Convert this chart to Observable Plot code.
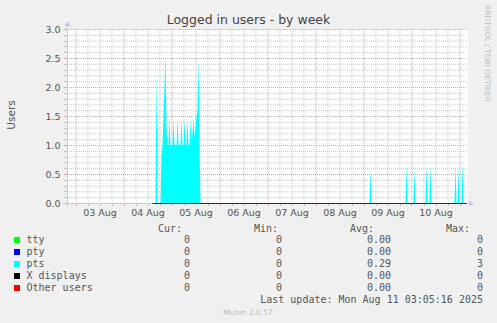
<!DOCTYPE html>
<html><head><meta charset="utf-8">
<script src="https://cdn.jsdelivr.net/npm/d3@7"></script>
<script src="https://cdn.jsdelivr.net/npm/@observablehq/plot@0.6"></script>
<style>
html,body{margin:0;padding:0;background:#f0f0f0;overflow:hidden;}
svg{display:block;}
</style></head><body><div id="chart"></div>
<script>
const chartTitle = "Logged in users - by week";
const yLabel = "Users";
const sideNote = "RRDTOOL / TOBI OETIKER";
const footer = "Munin 2.0.57";
const lastUpdate = "Last update: Mon Aug 11 03:05:16 2025";
const seriesNames = ["tty", "pty", "pts", "X displays", "Other users"];
const seriesColors = ["#00ff00", "#0000ff", "#00ffff", "#000000", "#ff0000"];
const statHeaders = ["Cur:", "Min:", "Avg:", "Max:"];
const curValues = ["0", "0", "0", "0", "0"];
const minValues = ["0", "0", "0", "0", "0"];
const avgValues = ["0.00", "0.00", "0.29", "0.00", "0.00"];
const maxValues = ["0", "0", "3", "0", "0"];

const xDomain = ["2025-08-02T19:45Z", "2025-08-11T03:45Z"];
const dayTicks = ["2025-08-03T12:00Z", "2025-08-04T12:00Z", "2025-08-05T12:00Z", "2025-08-06T12:00Z",
                  "2025-08-07T12:00Z", "2025-08-08T12:00Z", "2025-08-09T12:00Z", "2025-08-10T12:00Z"];
const dayLabels = ["03 Aug", "04 Aug", "05 Aug", "06 Aug", "07 Aug", "08 Aug", "09 Aug", "10 Aug"];
const yTicks = [0, 0.5, 1, 1.5, 2, 2.5, 3];
const knownRange = ["2025-08-04T14:30Z", "2025-08-11T03:30Z"];

const ptsTimes = [
  "2025-08-04T14:30Z", "2025-08-04T16:00Z", "2025-08-04T16:30Z", "2025-08-04T17:00Z",
  "2025-08-04T18:30Z", "2025-08-04T19:00Z", "2025-08-04T19:30Z", "2025-08-04T20:00Z",
  "2025-08-04T20:30Z", "2025-08-04T21:00Z", "2025-08-04T21:30Z", "2025-08-04T22:00Z",
  "2025-08-04T22:30Z", "2025-08-04T23:00Z", "2025-08-04T23:30Z",
  "2025-08-05T00:30Z", "2025-08-05T01:00Z", "2025-08-05T01:30Z",
  "2025-08-05T02:30Z", "2025-08-05T03:00Z", "2025-08-05T03:30Z",
  "2025-08-05T04:30Z", "2025-08-05T05:00Z", "2025-08-05T05:30Z",
  "2025-08-05T06:00Z", "2025-08-05T06:30Z", "2025-08-05T07:00Z",
  "2025-08-05T07:30Z", "2025-08-05T08:00Z", "2025-08-05T08:30Z",
  "2025-08-05T09:00Z", "2025-08-05T09:30Z", "2025-08-05T10:00Z",
  "2025-08-05T10:30Z", "2025-08-05T11:00Z", "2025-08-05T11:30Z", "2025-08-05T12:00Z",
  "2025-08-05T12:30Z", "2025-08-05T13:00Z", "2025-08-05T13:30Z", "2025-08-05T14:00Z",
  "2025-08-05T14:30Z",
  "2025-08-09T03:00Z", "2025-08-09T03:30Z", "2025-08-09T04:00Z",
  "2025-08-09T21:00Z", "2025-08-09T21:30Z", "2025-08-09T22:00Z",
  "2025-08-10T01:00Z", "2025-08-10T01:30Z", "2025-08-10T02:00Z",
  "2025-08-10T07:00Z", "2025-08-10T07:30Z", "2025-08-10T08:00Z",
  "2025-08-10T09:00Z", "2025-08-10T09:30Z", "2025-08-10T10:00Z",
  "2025-08-10T21:30Z", "2025-08-10T22:00Z", "2025-08-10T22:30Z",
  "2025-08-10T23:00Z", "2025-08-10T23:30Z", "2025-08-11T00:00Z",
  "2025-08-11T01:00Z", "2025-08-11T01:30Z", "2025-08-11T02:00Z",
  "2025-08-11T03:30Z"
];
const ptsValues = [
  0, 0, 2.3, 0,
  0, 0.8, 1.0, 1.5,
  2.0, 2.6, 1.3, 1.0,
  1.0, 1.45, 1.0,
  1.0, 1.45, 1.0,
  1.0, 1.45, 1.0,
  1.0, 1.45, 1.0,
  1.0, 1.45, 1.0,
  1.0, 1.45, 1.0,
  1.0, 1.45, 1.0,
  1.2, 1.45, 1.15, 1.3,
  1.5, 1.6, 2.5, 1.0,
  0,
  0, 0.6, 0,
  0, 0.65, 0,
  0, 0.6, 0,
  0, 0.65, 0,
  0, 0.65, 0,
  0, 0.65, 0,
  0, 0.6, 0,
  0, 0.7, 0,
  0
];
const ttyValues = [0, 0];
const ptyValues = [0, 0];
const xdispValues = [0, 0];
const otherValues = [0, 0];

const known = knownRange.map(t => new Date(t));
const pts = ptsTimes.map((t, i) => ({date: new Date(t), value: ptsValues[i]}));
const flat = vals => known.map((d, i) => ({date: d, value: vals[i]}));

const x0 = new Date(xDomain[0]), x1 = new Date(xDomain[1]);
const majorX = d3.utcDay.range(x0, x1);
const minorX = d3.utcHour.every(6).range(x0, x1).filter(d => d.getUTCHours() !== 0);
const minorY = d3.range(1, 30).filter(i => i % 5 !== 0).map(i => i / 10);
const majorY = yTicks.filter(v => v > 0);

const minorColor = "#c4c4c4";
const majorColor = "#e4a0a0";
const axisColor = "#c4c8f0";

const svg = Plot.plot({
  width: 497, height: 323,
  marginLeft: 67, marginRight: 30, marginTop: 29, marginBottom: 120,
  style: {background: "#f0f0f0", fontFamily: "DejaVu Sans", fontSize: "9.5px", color: "#555"},
  x: {type: "utc", domain: [x0, x1]},
  y: {domain: [0, 3]},
  marks: [
    Plot.frame({fill: "white", stroke: null}),
    Plot.ruleY(minorY, {stroke: minorColor, strokeDasharray: "1,1"}),
    Plot.ruleX(minorX, {stroke: minorColor, strokeDasharray: "1,1"}),
    Plot.ruleY(majorY, {stroke: majorColor, strokeDasharray: "1,1"}),
    Plot.ruleX(majorX, {stroke: majorColor, strokeDasharray: "1,1"}),
    Plot.areaY(flat(ttyValues), {x: "date", y: "value", fill: seriesColors[0]}),
    Plot.areaY(flat(ptyValues), {x: "date", y: "value", fill: seriesColors[1]}),
    Plot.areaY(pts, {x: "date", y: "value", fill: seriesColors[2]}),
    Plot.axisY({ticks: yTicks, tickFormat: d3.format(".1f"), tickSize: 0, tickPadding: 7, label: null, fill: "#555"}),
    Plot.axisX({ticks: dayTicks.map(t => new Date(t)), tickFormat: (d, i) => dayLabels[i], tickSize: 0, tickPadding: 6, label: null, fill: "#555"})
  ]
});

const sx = svg.scale("x"), sy = svg.scale("y");
const g = d3.select(svg).append("g").attr("text-anchor", "start");
const X0 = sx.apply(x0), X1 = sx.apply(x1), Y0 = sy.apply(0), Y3 = sy.apply(3);

// tick marks outside the frame
for (const d of minorX) g.append("line").attr("x1", Math.round(sx.apply(d)) + 0.5).attr("x2", Math.round(sx.apply(d)) + 0.5)
  .attr("y1", Y0).attr("y2", Y0 + 3).attr("stroke", minorColor);
for (const d of majorX) g.append("line").attr("x1", Math.round(sx.apply(d)) + 0.5).attr("x2", Math.round(sx.apply(d)) + 0.5)
  .attr("y1", Y0).attr("y2", Y0 + 3).attr("stroke", majorColor);
for (const v of minorY) g.append("line").attr("x1", X0 - 3).attr("x2", X0).attr("y1", Math.round(sy.apply(v)) + 0.5)
  .attr("y2", Math.round(sy.apply(v)) + 0.5).attr("stroke", minorColor);
for (const v of majorY) g.append("line").attr("x1", X0 - 3).attr("x2", X0).attr("y1", Math.round(sy.apply(v)) + 0.5)
  .attr("y2", Math.round(sy.apply(v)) + 0.5).attr("stroke", majorColor);

// axes with arrows
g.append("line").attr("x1", X0 - 4).attr("x2", X1 + 3).attr("y1", Y0 + 0.5).attr("y2", Y0 + 0.5).attr("stroke", axisColor);
g.append("line").attr("x1", X0 + 0.5).attr("x2", X0 + 0.5).attr("y1", Y0 + 3).attr("y2", Y3 - 4).attr("stroke", axisColor);
g.append("path").attr("d", `M${X1 + 2},${Y0 - 2.5}L${X1 + 7},${Y0 + 0.5}L${X1 + 2},${Y0 + 3.5}Z`).attr("fill", axisColor);
g.append("path").attr("d", `M${X0 - 2.5},${Y3 - 3}L${X0 + 0.5},${Y3 - 8}L${X0 + 3.5},${Y3 - 3}Z`).attr("fill", axisColor);

// line series drawn over the axis
const lineGen = d3.line().x(d => sx.apply(d.date)).y(d => Math.round(sy.apply(d.value)) + 0.5);
g.append("path").attr("d", lineGen(flat(xdispValues))).attr("stroke", seriesColors[3]).attr("fill", "none");
g.append("path").attr("d", lineGen(flat(otherValues))).attr("stroke", seriesColors[4]).attr("fill", "none").attr("stroke-opacity", 0.55);

// titles
g.append("text").attr("x", 248.5).attr("y", 23.5).attr("text-anchor", "middle")
  .attr("font-family", "DejaVu Sans").attr("font-size", "12.5px").attr("fill", "#444").text(chartTitle);
g.append("text").attr("transform", "translate(15,115) rotate(-90)").attr("text-anchor", "middle")
  .attr("font-family", "DejaVu Sans").attr("font-size", "10.5px").attr("fill", "#555").text(yLabel);
g.append("text").attr("transform", "translate(485,5) rotate(90)").attr("text-anchor", "start")
  .attr("font-family", "DejaVu Sans").attr("font-size", "7.5px").attr("fill", "#bbb").text(sideNote);

// legend
const mono = "DejaVu Sans Mono";
const headerX = [182, 278, 374, 470];
const colX = [190, 282, 391, 483];
statHeaders.forEach((h, i) => g.append("text").attr("x", headerX[i]).attr("y", 231.5).attr("text-anchor", "end")
  .attr("font-family", mono).attr("font-size", "10px").attr("fill", "#555").text(h));
const cols = [curValues, minValues, avgValues, maxValues];
seriesNames.forEach((name, r) => {
  const by = 242.5 + 12 * r;
  g.append("rect").attr("x", 14).attr("y", by - 5.5).attr("width", 6).attr("height", 6).attr("fill", seriesColors[r]);
  g.append("text").attr("x", 26.5).attr("y", by).attr("text-anchor", "start").attr("font-family", mono)
    .attr("font-size", "10px").attr("fill", "#555").text(name);
  cols.forEach((c, j) => g.append("text").attr("x", colX[j]).attr("y", by).attr("text-anchor", "end")
    .attr("font-family", mono).attr("font-size", "10px").attr("fill", "#555").text(c[r]));
});
g.append("text").attr("x", 483).attr("y", 302.5).attr("text-anchor", "end")
  .attr("font-family", mono).attr("font-size", "10px").attr("fill", "#555").text(lastUpdate);
g.append("text").attr("x", 248).attr("y", 315).attr("text-anchor", "middle")
  .attr("font-family", "DejaVu Sans").attr("font-size", "7.5px").attr("fill", "#bbb").text(footer);

document.getElementById("chart").appendChild(svg);
</script></body></html>
